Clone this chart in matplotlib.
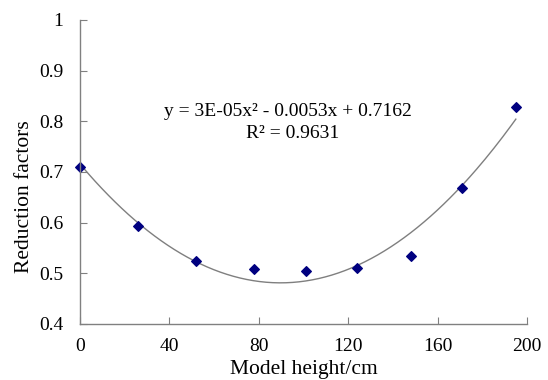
import numpy as np
import matplotlib
matplotlib.use("Agg")
import matplotlib.pyplot as plt

plt.rcParams['font.family'] = ['Liberation Serif', 'DejaVu Serif']

height_cm = [0, 26, 52, 78, 101, 124, 148, 171, 195]
reduction = [0.710, 0.593, 0.525, 0.508, 0.505, 0.510, 0.535, 0.668, 0.828]
x_ticks = [0, 40, 80, 120, 160, 200]
y_ticks = [0.4, 0.5, 0.6, 0.7, 0.8, 0.9, 1.0]
y_tick_labels = ["0.4", "0.5", "0.6", "0.7", "0.8", "0.9", "1"]
eq_text = "y = 3E-05x² - 0.0053x + 0.7162"
r2_text = "R² = 0.9631"

fig = plt.figure(figsize=(5.48, 3.80), dpi=100)
ax = fig.add_axes([80/548, 1-324/380, 447/548, 304/380])

coef = np.polyfit(height_cm, reduction, 2)
xs = np.linspace(min(height_cm), max(height_cm), 200)
ax.plot(xs, np.polyval(coef, xs), color='#7f7f7f', lw=1.0, zorder=1)
ax.scatter(height_cm, reduction, marker='D', s=24, color='#000080', zorder=2, clip_on=False)

ax.set_xlim(0, 200)
ax.set_ylim(0.4, 1.0)
ax.set_xticks(x_ticks)
ax.set_yticks(y_ticks)
ax.set_yticklabels(y_tick_labels)
ax.tick_params(direction='in', length=5, color='#808080', labelsize=14)
ax.tick_params(axis='y', pad=12)
ax.tick_params(axis='x', pad=10)
for s in ['top', 'right']:
    ax.spines[s].set_visible(False)
for s in ['left', 'bottom']:
    ax.spines[s].set_color('#808080')
    ax.spines[s].set_linewidth(1.0)

ax.set_xlabel("Model height/cm", fontsize=15.5, labelpad=4)
ax.set_ylabel("Reduction factors", fontsize=15.5)
ax.yaxis.set_label_coords(-0.104, 0.42)

ax.text(0.466, 0.70, eq_text, transform=ax.transAxes, ha='center', va='center', fontsize=14)
ax.text(0.476, 0.628, r2_text, transform=ax.transAxes, ha='center', va='center', fontsize=14)

fig.savefig("out.png", dpi=100)
